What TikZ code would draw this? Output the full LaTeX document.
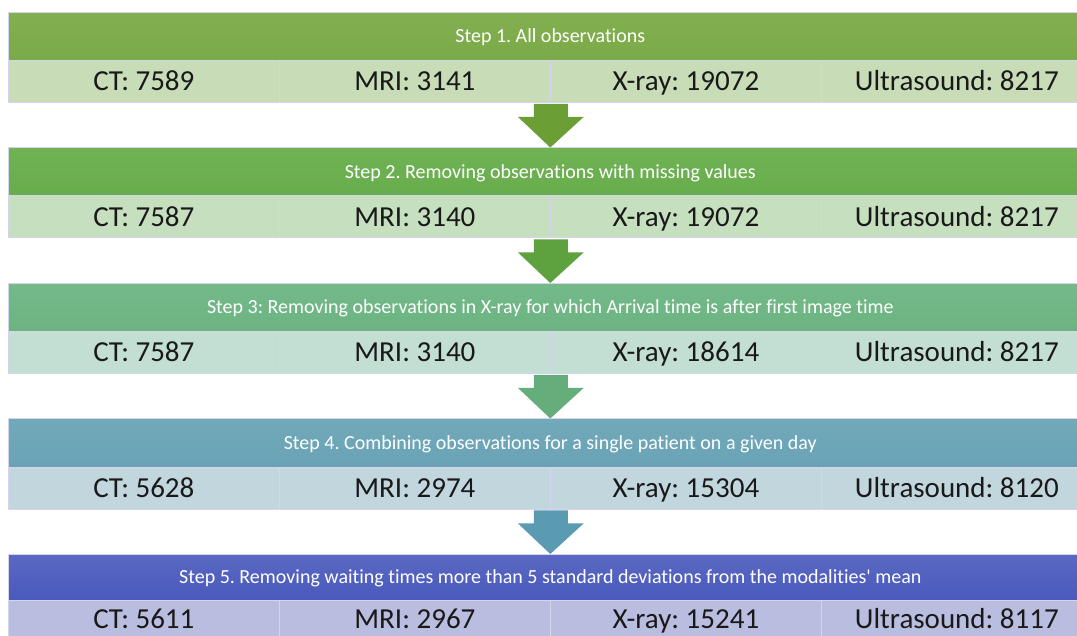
\documentclass[tikz,border=0pt]{standalone}
\usepackage{fontspec}
\setmainfont[Ligatures={NoCommon,TeXOff},RawFeature={-liga}]{Carlito}
\usetikzlibrary{calc}
\frenchspacing
\definecolor{hA}{HTML}{7BAA48}\definecolor{hAt}{HTML}{82AF50}
\definecolor{hB}{HTML}{68AD4C}\definecolor{hBt}{HTML}{70B255}
\definecolor{hC}{HTML}{6BB480}\definecolor{hCt}{HTML}{74B98A}
\definecolor{hD}{HTML}{68A3B5}\definecolor{hDt}{HTML}{72A9BA}
\definecolor{hE}{HTML}{4A5ABC}\definecolor{hEt}{HTML}{5A68C2}
\definecolor{rA}{HTML}{C8DCB8}
\definecolor{rB}{HTML}{C6DFBF}
\definecolor{rC}{HTML}{C3DED3}
\definecolor{rD}{HTML}{C1D6DD}
\definecolor{rE}{HTML}{B9BDE0}
\definecolor{aA}{HTML}{6B9F36}
\definecolor{aB}{HTML}{5EA23F}
\definecolor{aC}{HTML}{65AE7B}
\definecolor{aD}{HTML}{5A9BB1}
\definecolor{cellline}{HTML}{D4D4EC}
\tikzset{
  hdr/.style={rectangle, anchor=north west, minimum width=1084pt, minimum height=48pt,
    inner sep=0pt, text height=13pt, text depth=0pt, draw=cellline, line width=0.6pt,
    text=white, font=\fontsize{20}{24}\selectfont},
  cell/.style={rectangle, anchor=north west, minimum width=271pt, minimum height=42pt,
    inner sep=0pt, text height=19pt, text depth=0pt, draw=cellline, line width=0.8pt,
    text=black!90, font=\fontsize{29}{34}\selectfont},
}
\begin{document}
\begin{tikzpicture}[x=1pt,y=-1pt]
\useasboundingbox (0,0) rectangle (1077,636);
\clip (0,0) rectangle (1077,636);
\fill[white] (0,0) rectangle (1077,636);
% headers
\node[hdr, top color=hAt, bottom color=hA] (h1) at (8,12) {Step 1. All observations};
\node[hdr, top color=hBt, bottom color=hB] (h2) at (8,147.5) {Step 2. Removing observations with missing values};
\node[hdr, top color=hCt, bottom color=hC] (h3) at (8,283) {Step 3: Removing observations in X-ray for which Arrival time is after first image time};
\node[hdr, top color=hDt, bottom color=hD] (h4) at (8,418.5) {Step 4. Combining observations for a single patient on a given day};
\node[hdr, top color=hEt, bottom color=hE, minimum height=46pt] (h5) at (8,554) {Step 5. Removing waiting times more than 5 standard deviations from the modalities' mean};
% rows
\node[cell, fill=rA] (c11) at (8,60) {CT: 7589};
\node[cell, fill=rA] (c12) at (279,60) {MRI: 3141};
\node[cell, fill=rA] (c13) at (550,60) {X-ray: 19072};
\node[cell, fill=rA] (c14) at (821,60) {Ultrasound: 8217};
\node[cell, fill=rB] (c21) at (8,195.5) {CT: 7587};
\node[cell, fill=rB] (c22) at (279,195.5) {MRI: 3140};
\node[cell, fill=rB] (c23) at (550,195.5) {X-ray: 19072};
\node[cell, fill=rB] (c24) at (821,195.5) {Ultrasound: 8217};
\node[cell, fill=rC] (c31) at (8,331) {CT: 7587};
\node[cell, fill=rC] (c32) at (279,331) {MRI: 3140};
\node[cell, fill=rC] (c33) at (550,331) {X-ray: 18614};
\node[cell, fill=rC] (c34) at (821,331) {Ultrasound: 8217};
\node[cell, fill=rD] (c41) at (8,466.5) {CT: 5628};
\node[cell, fill=rD] (c42) at (279,466.5) {MRI: 2974};
\node[cell, fill=rD] (c43) at (550,466.5) {X-ray: 15304};
\node[cell, fill=rD] (c44) at (821,466.5) {Ultrasound: 8120};
\node[cell, fill=rE, minimum height=38pt] (c51) at (8,600) {CT: 5611};
\node[cell, fill=rE, minimum height=38pt] (c52) at (279,600) {MRI: 2967};
\node[cell, fill=rE, minimum height=38pt] (c53) at (550,600) {X-ray: 15241};
\node[cell, fill=rE, minimum height=38pt] (c54) at (821,600) {Ultrasound: 8117};
% arrows
\foreach \r/\h/\c in {c12/h2/aA, c22/h3/aB, c32/h4/aC, c42/h5/aD}{
  \fill[\c] ($(\r.south east)+(-17,1)$) -- ($(\r.south east)+(-17,14)$)
     -- ($(\r.south east)+(-33,14)$) -- (\h.north)
     -- ($(\r.south east)+(33,14)$) -- ($(\r.south east)+(17,14)$)
     -- ($(\r.south east)+(17,1)$) -- cycle;
}
\end{tikzpicture}
\end{document}
